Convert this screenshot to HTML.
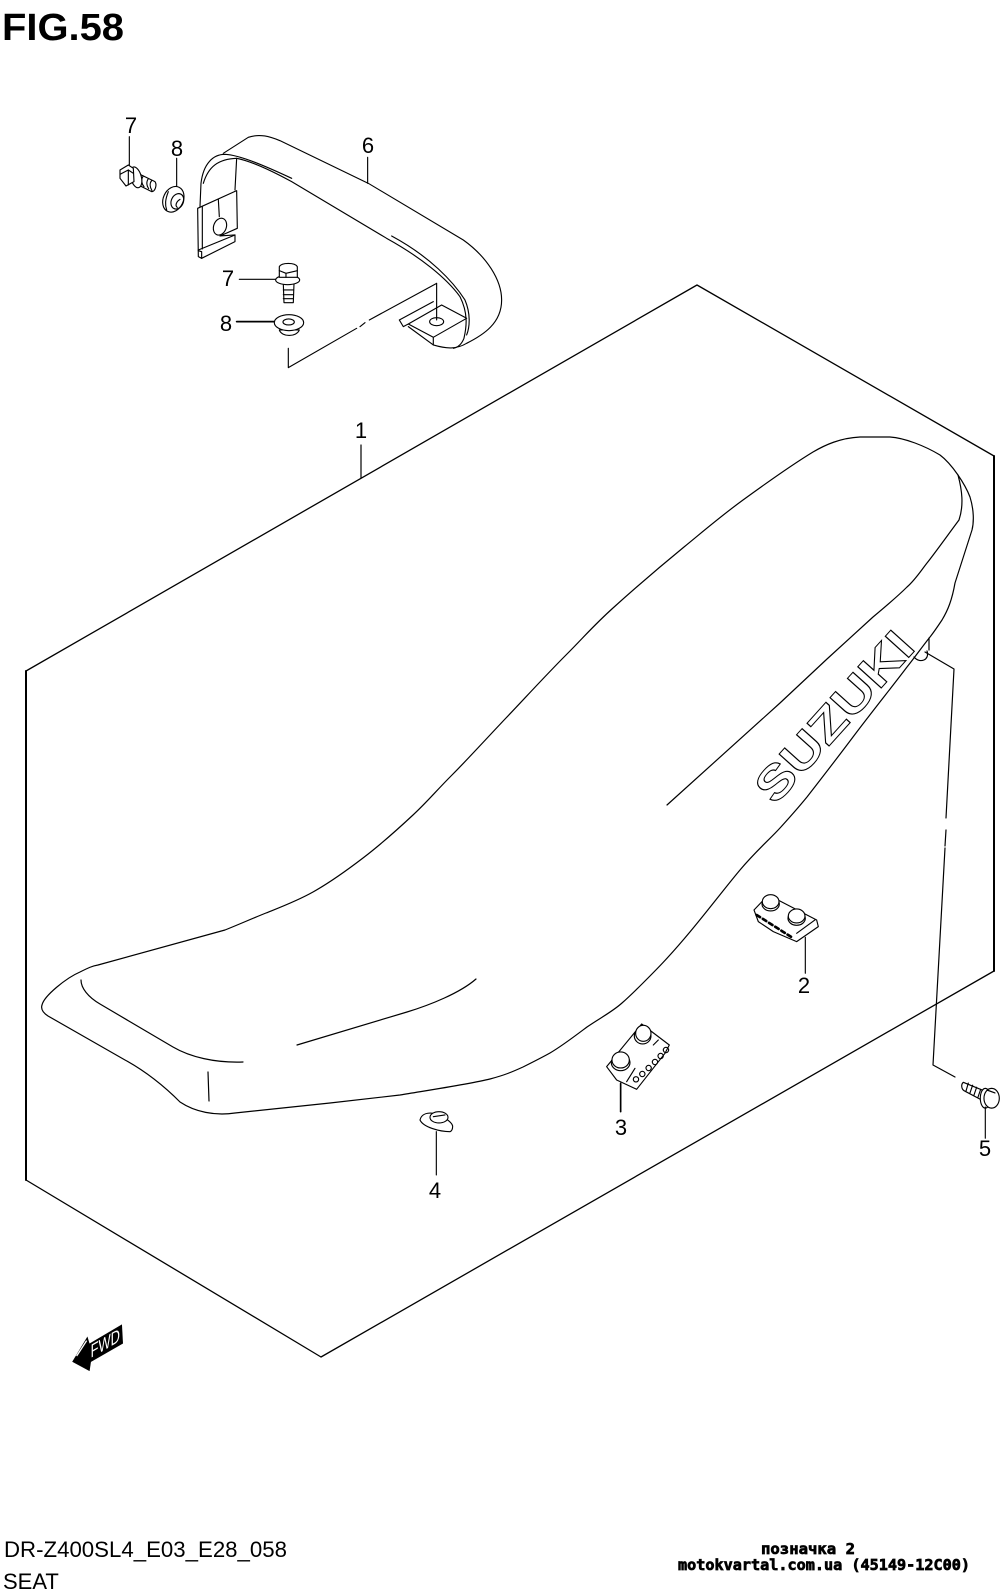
<!DOCTYPE html>
<html><head><meta charset="utf-8"><title>FIG.58 SEAT</title>
<style>
html,body{margin:0;padding:0;background:#fff}
svg{display:block}
text{font-family:"Liberation Sans",sans-serif;fill:#000}
.n{font-size:22px;text-anchor:middle}
.l{fill:none;stroke:#000;stroke-width:1.2;stroke-linejoin:round;stroke-linecap:round}
.z{fill:none;stroke:#000;stroke-width:3.4;stroke-linejoin:round;stroke-linecap:round}
.zf{fill:#fff;stroke:#000;stroke-width:3.4;stroke-linejoin:round}
</style></head><body>
<svg width="1000" height="1596" viewBox="0 0 1000 1596" xmlns="http://www.w3.org/2000/svg">
<rect width="1000" height="1596" fill="#fff"/>
<text x="2" y="40" font-size="38" font-weight="700" textLength="122" lengthAdjust="spacingAndGlyphs">FIG.58</text>

<!-- frame -->
<path class="l" style="stroke-width:1.3" d="M26,671 L697,285 L994,456 M321,1357 L994,971 M26,1180 L321,1357"/>
<path class="l" style="stroke-width:2" d="M26,671 V1180 M994,456 V971"/>

<!-- seat outline -->
<path class="l" d="M42,1005 C44,996 66,978 80,972 C88,968 92,966 98,965 L225,930 C240,924 251,919 266,913 C281,907 297,901 313,892 C329,883 346,871 363,858 C380,845 398,829 413,815 C428,801 436,791 452,775 C468,759 487,738 506,718 C525,698 548,673 566,655 C584,637 593,626 613,608 C633,590 662,565 684,547 C706,529 721,516 743,500 C765,484 790,466 813,452 C825,445 840,438 860,437 L890,437 C905,438 925,446 940,455 C952,464 965,484 970,497 C974,510 974,522 972,530 L955,583 C952,600 948,610 942,620 C938,626 934,632 930,637 C922,647 915,657 907,667 C895,683 871,713 853,737 C838,757 821,779 807,797 C798,808 790,817 780,828 C770,839 756,851 740,870 C724,889 703,917 684,939 C667,959 656,970 643,983 C636,990 630,996 622,1003 C612,1012 600,1018 587,1027 C575,1036 562,1046 550,1053 C541,1058 533,1062 523,1067 C512,1072 505,1075 490,1079 C470,1084 430,1090 400,1095 L330,1103 L235,1113 C215,1116 195,1112 180,1102 C165,1087 145,1071 125,1060 L48,1016 C42,1012 41,1008 42,1005 Z"/>
<path class="l" d="M958,475 C962,490 964,505 959,520 C950,532 935,553 927,563 C920,572 915,580 907,587 C897,597 885,607 873,617 L827,659 L780,703 L667,805"/>
<path class="l" d="M81,980 C81,988 88,997 100,1004 L173,1047 C190,1057 215,1063 243,1062"/>
<path class="l" d="M208,1072 L209,1101"/>
<path class="l" d="M297,1045 L407,1012 C430,1005 460,993 476,979"/>

<!-- SUZUKI logo -->
<text transform="translate(775,806) rotate(-48)" font-size="46" font-weight="700" textLength="212" lengthAdjust="spacingAndGlyphs" style="fill:#fff;stroke:#000;stroke-width:1">SUZUKI</text>

<!-- leader 5 -->
<path class="l" d="M925,652 L954,669 L946,818 M946,830 L945,846 M945,848 L933,1065 L955,1077"/>
<path class="l" d="M914,657 C920,664 930,660 927,651 M929,638 L929,650"/>

<!-- leader 1 -->
<path class="l" d="M361,445 V478"/>
<text class="n" x="361" y="438">1</text>

<!-- part 6 and hardware, zoom coords -->
<g transform="translate(100,100) scale(.3333)">
<path class="z" d="M370,160 L445,112 C480,100 510,110 540,122 L805,250 L1090,420 C1160,470 1205,540 1205,600 C1205,670 1150,705 1100,730 C1070,748 1040,747 1000,735"/>
<path class="z" d="M300,320 L303,250 C310,190 340,163 375,163 C420,165 500,200 575,235"/>
<path class="z" d="M310,250 C325,200 355,177 410,175 C460,185 520,215 575,245 L860,415 C960,470 1040,535 1080,590 C1105,640 1100,680 1092,715 C1085,733 1075,742 1060,745"/>
<path class="z" d="M875,408 C990,470 1060,545 1095,600 C1112,640 1110,680 1100,705"/>
<path class="z" d="M410,175 L405,270"/>
<path class="zf" d="M293,325 L410,272 L412,385 L360,408 L405,405 L405,425 L305,475 L295,470 Z"/>
<path class="z" d="M307,320 V447 M295,450 L405,405 M295,452 L305,455 L305,475 M355,298 L358,350"/>
<ellipse class="zf" cx="360" cy="380" rx="19" ry="26" transform="rotate(20 360 380)"/>
<path class="z" d="M898,660 L1000,605 M898,660 L910,680 L925,672 M925,672 L1025,615 L1100,655 L1000,712 Z M925,680 L1000,735 L1000,712"/>
<ellipse class="z" cx="1010" cy="665" rx="21" ry="12"/>
<path class="z" d="M1010,550 V660 M1010,550 L808,660 M795,668 L780,680 M770,685 L565,803 V745"/>
<path class="z" d="M88,110 V195 M230,175 V262 M803,172 V250 M418,538 H530"/>
<path class="z" style="stroke-width:5" d="M410,665 H522"/>
<!-- bolt 7 top -->
<path class="zf" d="M118,222 L165,245 C172,255 165,275 155,275 L115,255 Z"/>
<path class="z" d="M130,228 C122,238 125,252 132,260 M145,236 C138,246 140,258 146,266 M155,242 C148,250 150,262 156,272"/>
<ellipse class="zf" cx="108" cy="232" rx="16" ry="32" transform="rotate(-15 108 232)"/>
<path class="zf" d="M60,210 L85,195 L100,205 L102,245 L78,258 L60,235 Z"/>
<path class="z" d="M62,222 L85,210 L100,220 M85,210 V255"/>
<!-- nut 8 top -->
<ellipse class="zf" cx="220" cy="298" rx="30" ry="40" transform="rotate(25 220 298)"/>
<ellipse class="z" cx="232" cy="304" rx="18" ry="24" transform="rotate(25 232 304)"/>
<path class="z" d="M240,298 C228,305 225,318 232,322 M205,275 C195,300 195,315 200,330"/>
<!-- bolt 7 lower -->
<path class="zf" d="M550,552 L552,608 L580,608 L582,552 Z"/>
<path class="z" d="M550,570 H580 M550,584 H580 M550,596 H580"/>
<ellipse class="zf" cx="563" cy="540" rx="36" ry="14"/>
<path class="zf" d="M538,500 C545,487 585,487 592,500 L592,532 L538,532 Z"/>
<path class="z" d="M538,512 L558,520 L592,512 M558,520 V532"/>
<!-- nut 8 lower -->
<path class="zf" d="M538,690 C545,712 590,712 598,690 Z"/>
<ellipse class="zf" cx="567" cy="668" rx="44" ry="24"/>
<ellipse class="z" cx="566" cy="666" rx="17" ry="9"/>
</g>
<text class="n" x="131" y="133">7</text>
<text class="n" x="177" y="156">8</text>
<text class="n" x="368" y="153">6</text>
<text class="n" x="228" y="286">7</text>
<text class="n" x="226" y="331">8</text>

<!-- part 2 -->
<g transform="translate(640,600) scale(.3333)">
<path class="zf" d="M342,930 L385,885 L530,960 L535,980 L470,1025 L400,995 L355,965 Z"/>
<ellipse class="zf" cx="392" cy="912" rx="26" ry="21"/>
<ellipse class="zf" cx="392" cy="905" rx="25" ry="21"/>
<ellipse class="zf" cx="470" cy="955" rx="26" ry="21"/>
<ellipse class="zf" cx="470" cy="948" rx="25" ry="21"/>
<path class="z" d="M470,1000 L525,960"/>
<path class="z" style="stroke-width:8" stroke-dasharray="12 10" d="M350,945 L460,1015"/>
<path class="z" d="M496,1012 V1120"/>
</g>
<text class="n" x="804" y="993">2</text>

<!-- parts 3, 4 -->
<g transform="translate(400,1000) scale(.3333)">
<path class="zf" d="M620,200 L725,72 L808,135 L795,160 L710,268 L650,240 Z"/>
<ellipse class="zf" cx="728" cy="108" rx="25" ry="24"/>
<ellipse class="zf" cx="730" cy="100" rx="23" ry="24"/>
<ellipse class="zf" cx="662" cy="188" rx="28" ry="24"/>
<ellipse class="zf" cx="662" cy="180" rx="26" ry="24"/>
<path class="z" d="M680,245 L705,205 M760,135 L775,120"/>
<g class="z"><circle cx="708" cy="238" r="8"/><circle cx="727" cy="222" r="8"/><circle cx="746" cy="204" r="8"/><circle cx="765" cy="186" r="8"/><circle cx="782" cy="168" r="8"/><circle cx="798" cy="150" r="8"/></g>
<path class="z" style="stroke-width:5" d="M662,250 V335"/>
<path class="zf" d="M60,360 C65,340 85,338 100,340 C125,345 155,365 158,378 C158,388 156,393 150,395 C120,395 70,382 60,360 Z"/>
<ellipse class="zf" cx="117" cy="352" rx="27" ry="17"/>
<path class="z" d="M100,350 L135,345"/>
<path class="z" d="M109,395 V525"/>
</g>
<text class="n" x="621" y="1135">3</text>
<text class="n" x="435" y="1198">4</text>

<!-- bolt 5 -->
<g transform="translate(700,1040) scale(.3333,.353)">
<path class="zf" d="M790,120 L855,145 L845,170 L795,145 C783,140 783,125 790,120 Z"/>
<path class="z" d="M805,122 L798,145 M818,128 L810,150 M830,134 L822,156 M842,140 L834,162"/>
<ellipse class="zf" cx="856" cy="165" rx="15" ry="28"/>
<ellipse class="zf" cx="875" cy="165" rx="23" ry="28"/>
<path class="z" d="M862,142 L885,150"/>
<path class="z" d="M856,190 V278"/>
</g>
<text class="n" x="985" y="1156">5</text>

<!-- FWD arrow -->
<g transform="translate(0,1320) scale(.3333)">
<path d="M218,125 L262,52 L268,72 L365,15 L368,70 L272,125 L268,152 Z" fill="#000" stroke="#000" stroke-width="2"/>
<path d="M230,108 L260,62" stroke="#fff" stroke-width="4" fill="none"/>
<text transform="translate(272,114) skewY(-30)" font-size="56" style="fill:#fff" textLength="88" lengthAdjust="spacingAndGlyphs">FWD</text>
</g>

<!-- captions -->
<text x="4" y="1557" font-size="22" textLength="283" lengthAdjust="spacingAndGlyphs">DR-Z400SL4_E03_E28_058</text>
<text x="3" y="1589" font-size="22">SEAT</text>

<!-- watermark -->
<text x="761" y="1554" font-size="15" font-weight="700" textLength="94" lengthAdjust="spacingAndGlyphs" style='font-family:"DejaVu Sans Mono","Liberation Mono",monospace;stroke:#000;stroke-width:.7'>позначка 2</text>
<text x="678" y="1570" font-size="15" font-weight="700" textLength="292" lengthAdjust="spacingAndGlyphs" style='font-family:"DejaVu Sans Mono","Liberation Mono",monospace;stroke:#000;stroke-width:.7'>motokvartal.com.ua (45149-12C00)</text>
</svg>
</body></html>
